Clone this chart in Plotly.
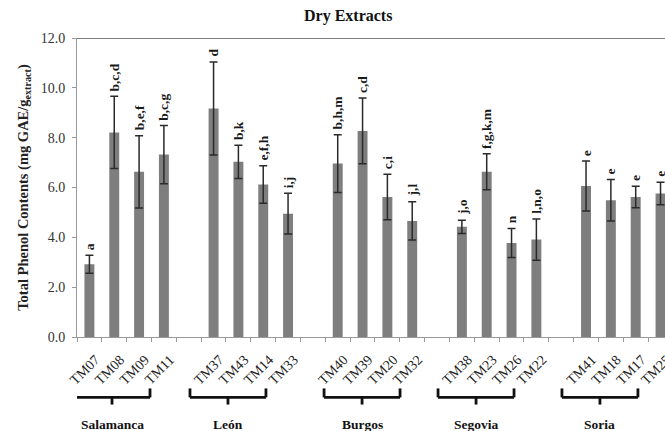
import plotly.graph_objects as go

regions = ["Salamanca", "León", "Burgos", "Segovia", "Soria"]
codes = [
    ["TM07", "TM08", "TM09", "TM11"],
    ["TM37", "TM43", "TM14", "TM33"],
    ["TM40", "TM39", "TM20", "TM32"],
    ["TM38", "TM23", "TM26", "TM22"],
    ["TM41", "TM18", "TM17", "TM25"],
]
values = [
    [2.92, 8.21, 6.63, 7.32],
    [9.17, 7.03, 6.12, 4.95],
    [6.96, 8.27, 5.62, 4.66],
    [4.42, 6.63, 3.77, 3.91],
    [6.06, 5.49, 5.62, 5.76],
]
errors = [
    [0.36, 1.45, 1.45, 1.17],
    [1.87, 0.67, 0.75, 0.82],
    [1.16, 1.32, 0.91, 0.77],
    [0.27, 0.72, 0.58, 0.83],
    [1.00, 0.83, 0.43, 0.45],
]
letters = [
    ["a", "b,c,d", "b,e,f", "b,c,g"],
    ["d", "b,k", "e,f,h", "i,j"],
    ["b,h,m", "c,d", "c,i", "j,l"],
    ["j,o", "f,g,k,m", "n", "l,n,o"],
    ["e", "e", "e", "e"],
]

# build category list with blank gap slots between regions
cats, ys, es = [], [], []
for gi, (cs, vs, ers) in enumerate(zip(codes, values, errors)):
    cats += cs
    ys += vs
    es += ers
    if gi < len(codes) - 1:
        cats.append(" " * (gi + 1))
        ys.append(None)
        es.append(None)

SERIF = "Liberation Serif"

fig = go.Figure()
fig.add_trace(go.Bar(
    x=cats, y=ys,
    marker=dict(color="#7e7e7e", line=dict(width=0)),
    error_y=dict(type="data", array=es, visible=True, color="#2a2a2a",
                 thickness=1.5, width=4),
    width=0.4,
    showlegend=False,
    hoverinfo="skip",
))

annotations = []
for cs, vs, ers, ls in zip(codes, values, errors, letters):
    for c, v, e, l in zip(cs, vs, ers, ls):
        annotations.append(dict(
            x=c, y=v + e, xref="x", yref="y", text="<b>%s</b>" % l,
            textangle=-90, showarrow=False, yanchor="bottom", xanchor="center",
            yshift=3, font=dict(family=SERIF, size=13.5, color="#1a1a1a"),
        ))

# region brackets and labels (positions in category index units)
centers = [0.91, 5.58, 10.98, 15.57, 20.56]
half = 1.53
shapes = []
y_top, y_mid, y_bot = -0.172, -0.202, -0.226
for c, name in zip(centers, regions):
    lw = 2.8
    col = "#111111"
    shapes.append(dict(type="line", xref="x", yref="paper", x0=c - half, x1=c + half,
                       y0=y_mid, y1=y_mid, line=dict(color=col, width=lw)))
    shapes.append(dict(type="line", xref="x", yref="paper", x0=c - half, x1=c - half,
                       y0=y_mid, y1=y_top, line=dict(color=col, width=lw)))
    shapes.append(dict(type="line", xref="x", yref="paper", x0=c + half, x1=c + half,
                       y0=y_mid, y1=y_top, line=dict(color=col, width=lw)))
    shapes.append(dict(type="line", xref="x", yref="paper", x0=c, x1=c,
                       y0=y_mid, y1=y_bot, line=dict(color=col, width=lw)))
    annotations.append(dict(
        x=c, y=-0.292, xref="x", yref="paper", text="<b>%s</b>" % name,
        showarrow=False, xanchor="center", yanchor="middle",
        font=dict(family=SERIF, size=13.5, color="#111111"),
    ))

# top border line
shapes.append(dict(type="line", xref="paper", yref="y", x0=0, x1=1, y0=12, y1=12,
                   line=dict(color="#555555", width=1.5)))

annotations.append(dict(
    x=0.461, y=1.0, xref="paper", yref="paper", yshift=22, text="<b>Dry Extracts</b>",
    showarrow=False, xanchor="center", yanchor="middle",
    font=dict(family=SERIF, size=16, color="#111111"),
))

fig.update_layout(
    width=665, height=431,
    margin=dict(l=77, r=0, t=38, b=94, autoexpand=False),
    paper_bgcolor="white", plot_bgcolor="white",
    bargap=0.6,
    annotations=annotations,
    shapes=shapes,
    xaxis=dict(
        type="category", categoryorder="array", categoryarray=cats,
        range=[-0.5, 23.18], automargin=False,
        tickson="boundaries", ticks="outside", ticklen=4, tickcolor="#999999",
        showline=True, linecolor="#999999", linewidth=1,
        tickangle=-45, showgrid=False,
        ticklabelstandoff=8, ticklabelshift=6,
        tickfont=dict(family=SERIF, size=14, color="#222222"),
    ),
    yaxis=dict(
        range=[0, 12], dtick=2, tickformat=".1f", automargin=False,
        ticks="outside", ticklen=4, tickcolor="#999999",
        showline=True, linecolor="#999999", linewidth=1,
        showgrid=False, zeroline=False,
        ticklabelstandoff=4,
        tickfont=dict(family=SERIF, size=14, color="#333333"),
        title=dict(text="<b>Total Phenol Contents (mg GAE/g<sub>extract</sub>)</b>",
                   font=dict(family=SERIF, size=14.5, color="#222222"), standoff=8),
    ),
)

# remove the browser's default page margin so the figure fills the window exactly
fig.write_html(
    "out.html",
    config={"displayModeBar": False},
    post_script="document.body.style.margin='0';document.body.style.overflow='hidden';",
)
